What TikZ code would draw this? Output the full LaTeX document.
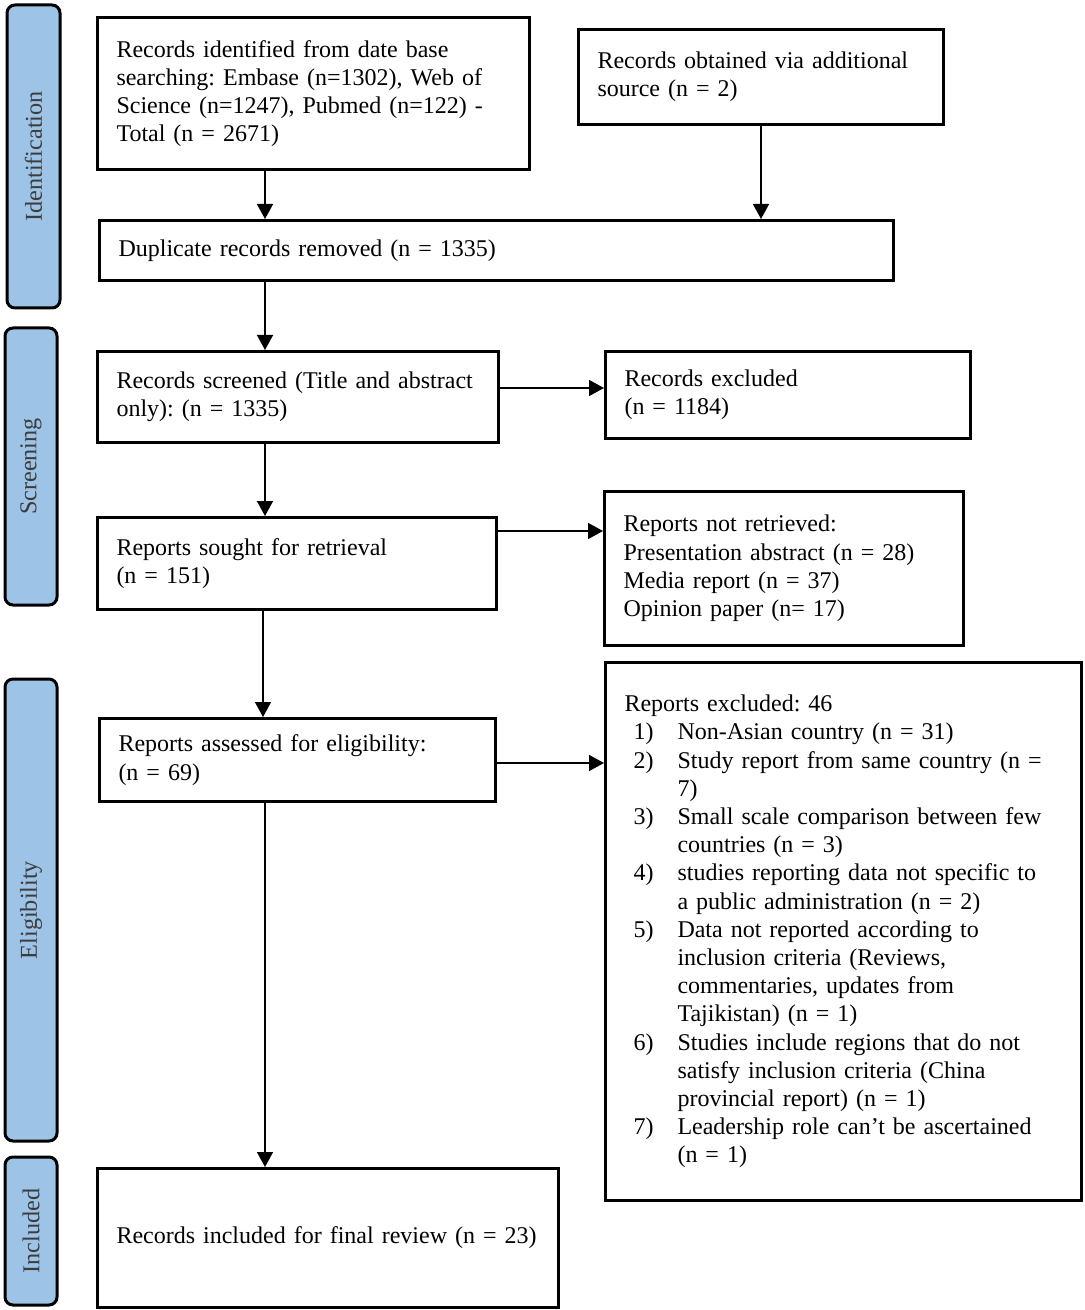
\documentclass[tikz,border=0pt]{standalone}
\usepackage{fontspec}
\setmainfont{Liberation Serif}[WordSpace=0.82]
\frenchspacing
\usetikzlibrary{arrows.meta,calc}
\definecolor{sidefill}{RGB}{157,195,230}
\definecolor{sidetext}{RGB}{60,60,60}
\begin{document}
\begin{tikzpicture}[x=0.5pt,y=-0.5pt,
  bx/.style={draw, line width=1.5pt, rectangle, anchor=north west, inner xsep=9.5pt, inner ysep=0pt, align=left,
    font=\fontsize{12pt}{14.1pt}\selectfont\frenchspacing},
  side/.style={draw, line width=1.5pt, fill=sidefill, rounded corners=4pt, rotate=90, inner sep=0pt,
    text=sidetext, font=\fontsize{12.1pt}{14.1pt}\selectfont},
  arr/.style={line width=0.75pt, -{Triangle[length=7.5pt,width=8pt]}}]
\useasboundingbox (0,0) rectangle (1084,1310);

% side labels
\node[side, minimum width=151.5pt, minimum height=26.5pt] (sid) at (33.5,156.5) {Identification};
\node[side, minimum width=138.5pt, minimum height=26pt] (ssc) at (31,466.5) {Screening};
\node[side, minimum width=231pt, minimum height=26pt] (sel) at (31,910) {Eligibility};
\node[side, minimum width=74pt, minimum height=26pt] (sin) at (31,1231) {Included};

% boxes
\node[bx, minimum width=216pt, text width=197pt, minimum height=76pt] (b1) at (96,16)
 {Records identified from date base\\\mbox{searching: Embase (n=1302), Web of}\\\mbox{Science (n=1247), Pubmed (n=122) -}\\Total (n = 2671)};
\node[bx, minimum width=182.5pt, text width=163.5pt, minimum height=47.5pt] (b2) at (577,28)
 {\mbox{Records obtained via additional}\\source (n = 2)};
\node[bx, minimum width=397pt, text width=378pt, minimum height=30pt] (b3) at (98,219)
 {Duplicate records removed (n = 1335)};
\node[bx, minimum width=200.5pt, text width=181.5pt, minimum height=45.5pt] (b4) at (96,350)
 {\mbox{Records screened (Title and abstract}\\only): (n = 1335)};
\node[bx, minimum width=182.5pt, text width=163.5pt, minimum height=43.5pt] (b5) at (604,350)
 {Records excluded\\(n = 1184)};
\node[bx, minimum width=199.5pt, text width=180.5pt, minimum height=46pt] (b6) at (96,516)
 {Reports sought for retrieval\\(n = 151)};
\node[bx, minimum width=179.5pt, text width=160.5pt, minimum height=77pt] (b7) at (603,490)
 {Reports not retrieved:\\\mbox{Presentation abstract (n = 28)}\\Media report (n = 37)\\Opinion paper (n= 17)};
\node[bx, minimum width=198pt, text width=179pt, minimum height=41.5pt] (b8) at (98,717)
 {\mbox{Reports assessed for eligibility:}\\(n = 69)};
\node[bx, minimum width=238pt, text width=219pt, minimum height=269pt] (b9) at (604,661)
 {Reports excluded: 46\\
  \hspace*{4.5pt}\makebox[22pt][l]{1)}Non-Asian country (n = 31)\\
  \hspace*{4.5pt}\makebox[22pt][l]{2)}\mbox{Study report from same country (n =}\\
  \hspace*{26.5pt}7)\\
  \hspace*{4.5pt}\makebox[22pt][l]{3)}\mbox{Small scale comparison between few}\\
  \hspace*{26.5pt}countries (n = 3)\\
  \hspace*{4.5pt}\makebox[22pt][l]{4)}\mbox{studies reporting data not specific to}\\
  \hspace*{26.5pt}a public administration (n = 2)\\
  \hspace*{4.5pt}\makebox[22pt][l]{5)}Data not reported according to\\
  \hspace*{26.5pt}inclusion criteria (Reviews,\\
  \hspace*{26.5pt}commentaries, updates from\\
  \hspace*{26.5pt}Tajikistan) (n = 1)\\
  \hspace*{4.5pt}\makebox[22pt][l]{6)}\mbox{Studies include regions that do not}\\
  \hspace*{26.5pt}satisfy inclusion criteria (China\\
  \hspace*{26.5pt}provincial report) (n = 1)\\
  \hspace*{4.5pt}\makebox[22pt][l]{7)}\mbox{Leadership role can’t be ascertained}\\
  \hspace*{26.5pt}(n = 1)};
\node[bx, minimum width=230.5pt, text width=211.5pt, minimum height=69.5pt] (b10) at (96,1167)
 {\mbox{Records included for final review (n = 23)}};

% connectors
\coordinate (xa) at (265,0);
\coordinate (xb) at (263,0);
\draw[arr] (b1.south -| xa) -- (b3.north -| xa);
\draw[arr] (b2.south) -- (b2.south |- b3.north);
\draw[arr] (b3.south -| xa) -- (b4.north -| xa);
\draw[arr] (b4.south -| xa) -- (b6.north -| xa);
\draw[arr] (b6.south -| xb) -- (b8.north -| xb);
\draw[arr] (b8.south -| xa) -- (b10.north -| xa);
\coordinate (ya) at ([yshift=-19pt]b4.north east);
\coordinate (yb) at ([yshift=-7.5pt]b6.north east);
\coordinate (yc) at ([yshift=-23pt]b8.north east);
\draw[arr] (ya) -- (ya -| b5.west);
\draw[arr] (yb) -- (yb -| b7.west);
\draw[arr] (yc) -- (yc -| b9.west);
\end{tikzpicture}
\end{document}
